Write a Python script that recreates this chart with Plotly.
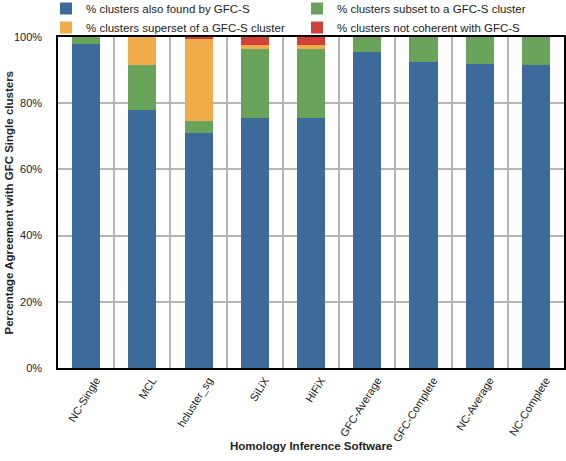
import plotly.graph_objects as go

categories = ["NC-Single", "MCL", "hcluster_sg", "SiLiX", "HiFiX",
              "GFC-Average", "GFC-Complete", "NC-Average", "NC-Complete"]

found = [97.9, 78.0, 71.1, 75.6, 75.5, 95.5, 92.4, 91.9, 91.5]
subset = [2.1, 13.4, 3.4, 20.9, 21.0, 4.5, 7.6, 8.1, 8.5]
superset = [0.0, 8.6, 25.0, 1.2, 1.2, 0.0, 0.0, 0.0, 0.0]
not_coherent = [0.0, 0.0, 0.5, 2.3, 2.3, 0.0, 0.0, 0.0, 0.0]

series = [
    ("% clusters also found by GFC-S", found, "#3b6a9b"),
    ("% clusters subset to a GFC-S cluster", subset, "#69a35a"),
    ("% clusters superset of a GFC-S cluster", superset, "#f1ac4a"),
    ("% clusters not coherent with GFC-S", not_coherent, "#d23f38"),
]

y_ticks = [0, 20, 40, 60, 80, 100]
y_tick_labels = ["0%", "20%", "40%", "60%", "80%", "100%"]

FONT = "Liberation Sans, Arial, Helvetica, sans-serif"
TXT = "#222"
W, H = 566, 461
ML, MR, MT, MB = 58, 2, 37, 93
PW, PH = W - ML - MR, H - MT - MB

fig = go.Figure()
for name, vals, color in series:
    fig.add_trace(go.Bar(
        x=categories, y=vals, name=name,
        marker=dict(color=color, line=dict(width=0)),
    ))

fig.update_layout(
    width=W, height=H,
    autosize=False,
    barmode="stack",
    bargap=0.5,
    plot_bgcolor="white",
    paper_bgcolor="white",
    font=dict(family=FONT, size=11, color=TXT),
    margin=dict(l=ML, r=MR, t=MT, b=MB, pad=0, autoexpand=False),
    legend=dict(
        orientation="h",
        traceorder="normal",
        x=(46 - ML) / PW, xanchor="left",
        y=1 + (MT + 6) / PH, yanchor="top",
        entrywidth=206,
        font=dict(size=11.5, family=FONT, color=TXT),
        itemwidth=30,
        tracegroupgap=0,
        bgcolor="rgba(0,0,0,0)",
    ),
    xaxis=dict(
        type="category",
        tickson="boundaries",
        showgrid=True, gridcolor="#b5b5b5", gridwidth=1.5,
        ticks="", tickangle=-58,
        ticklabelshift=10,
        showline=True, linecolor="black", linewidth=1.5, mirror=True,
        tickfont=dict(size=11, family=FONT, color=TXT),
        automargin=False,
    ),
    yaxis=dict(
        range=[0, 100],
        tickvals=y_ticks,
        ticktext=y_tick_labels,
        showgrid=True, gridcolor="#b5b5b5", gridwidth=1.5,
        ticks="", ticklabelstandoff=12,
        showline=True, linecolor="black", linewidth=1.5, mirror=True,
        zeroline=False,
        tickfont=dict(size=11, family=FONT, color=TXT),
        automargin=False,
    ),
    annotations=[
        dict(text="<b>Homology Inference Software</b>",
             xref="paper", yref="paper", x=0.5, y=-(446 - (H - MB)) / PH,
             xanchor="center", yanchor="middle", showarrow=False,
             font=dict(size=11.5, family=FONT, color=TXT)),
        dict(text="<b>Percentage Agreement with GFC Single clusters</b>",
             xref="paper", yref="paper", x=-(ML - 8) / PW, y=0.5,
             xanchor="center", yanchor="middle", textangle=-90, showarrow=False,
             font=dict(size=11.5, family=FONT, color=TXT)),
    ],
)

post = (
    "document.body.style.margin='0';document.body.style.padding='0';"
    "document.body.style.overflow='hidden';"
    "var gd=document.getElementById('{plot_id}');"
    "Plotly.relayout(gd,{width:%d,height:%d});" % (W, H)
)

fig.write_html("out.html", config={"responsive": False, "displayModeBar": False},
               post_script=post)
